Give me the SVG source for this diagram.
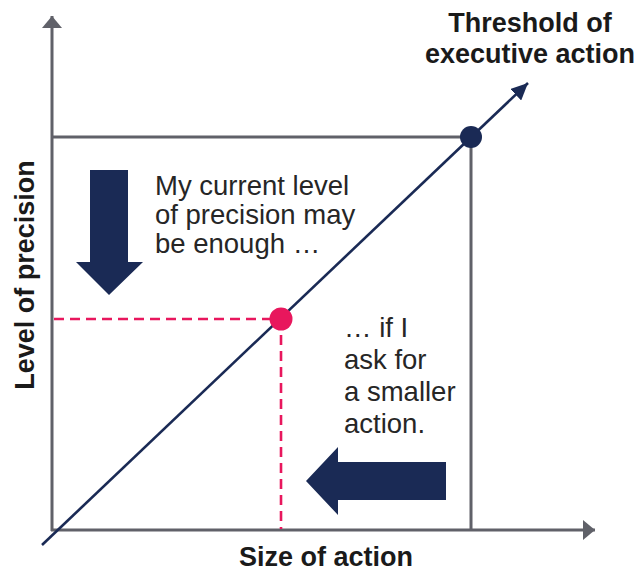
<svg xmlns="http://www.w3.org/2000/svg" width="641" height="571" viewBox="0 0 641 571">
  <defs>
    <style>
      .axis { stroke: #606169; stroke-width: 3; fill: none; }
      .guide { stroke: #606169; stroke-width: 3; fill: none; }
      .diag { stroke: #1a2a55; stroke-width: 2.6; fill: none; }
      .dash { stroke: #e8175d; stroke-width: 2.6; fill: none; stroke-dasharray: 10 6; }
      .navy { fill: #1a2a55; }
      .pink { fill: #e8175d; }
      .label { font-family: "Liberation Sans", Arial, sans-serif; font-weight: bold; font-size: 27px; fill: #1a1a1a; }
      .note { font-family: "Liberation Sans", Arial, sans-serif; font-size: 27.5px; fill: #262626; }
    </style>
    <marker id="axisHead" viewBox="0 0 12 20" refX="12" refY="10" markerWidth="12" markerHeight="20" markerUnits="userSpaceOnUse" orient="auto">
      <path d="M0,0 L12,10 L0,20 Z" fill="#606169"/>
    </marker>
    <marker id="diagHead" viewBox="0 0 17 16" refX="17" refY="8" markerWidth="17" markerHeight="16" markerUnits="userSpaceOnUse" orient="auto">
      <path d="M0,0 L17,8 L0,16 Z" fill="#1a2a55"/>
    </marker>
  </defs>

  <g id="connectors">
    <!-- axes -->
    <line class="axis" x1="52" y1="531" x2="52" y2="16" marker-end="url(#axisHead)"/>
    <line class="axis" x1="51" y1="530" x2="595" y2="530" marker-end="url(#axisHead)"/>
    <!-- threshold guides -->
    <line class="guide" x1="52" y1="137" x2="471" y2="137"/>
    <line class="guide" x1="471" y1="137" x2="471" y2="530"/>
    <!-- current-precision guides -->
    <line class="dash" x1="54" y1="319" x2="281" y2="319"/>
    <line class="dash" x1="281" y1="319" x2="281" y2="529"/>
    <!-- threshold line -->
    <line class="diag" x1="42" y1="545" x2="528" y2="83" marker-end="url(#diagHead)"/>
  </g>

  <g id="threshold-point">
    <circle class="navy" cx="471" cy="137" r="11"/>
  </g>
  <g id="current-point">
    <circle class="pink" cx="281" cy="319" r="11.5"/>
  </g>

  <g id="down-arrow">
    <path class="navy" d="M90,170 H128 V262 H143 L109,295 L76,262 H90 Z"/>
  </g>
  <g id="left-arrow">
    <path class="navy" d="M446,462 V500 H338 V515 L306,481 L338,447 V462 Z"/>
  </g>

  <g id="note-precision">
    <text class="note" x="155" y="195">My current level</text>
    <text class="note" x="155" y="224">of precision may</text>
    <text class="note" x="155" y="253">be enough …</text>
  </g>
  <g id="note-action">
    <text class="note" x="344" y="337">… if I</text>
    <text class="note" x="344" y="369">ask for</text>
    <text class="note" x="344" y="401">a smaller</text>
    <text class="note" x="344" y="433">action.</text>
  </g>

  <g id="threshold-label">
    <text class="label" text-anchor="middle" x="530" y="32">Threshold of</text>
    <text class="label" text-anchor="middle" x="530" y="63">executive action</text>
  </g>
  <g id="x-label">
    <text class="label" text-anchor="middle" x="326" y="566">Size of action</text>
  </g>
  <g id="y-label">
    <text class="label" text-anchor="middle" transform="translate(34,275) rotate(-90)">Level of precision</text>
  </g>
</svg>
